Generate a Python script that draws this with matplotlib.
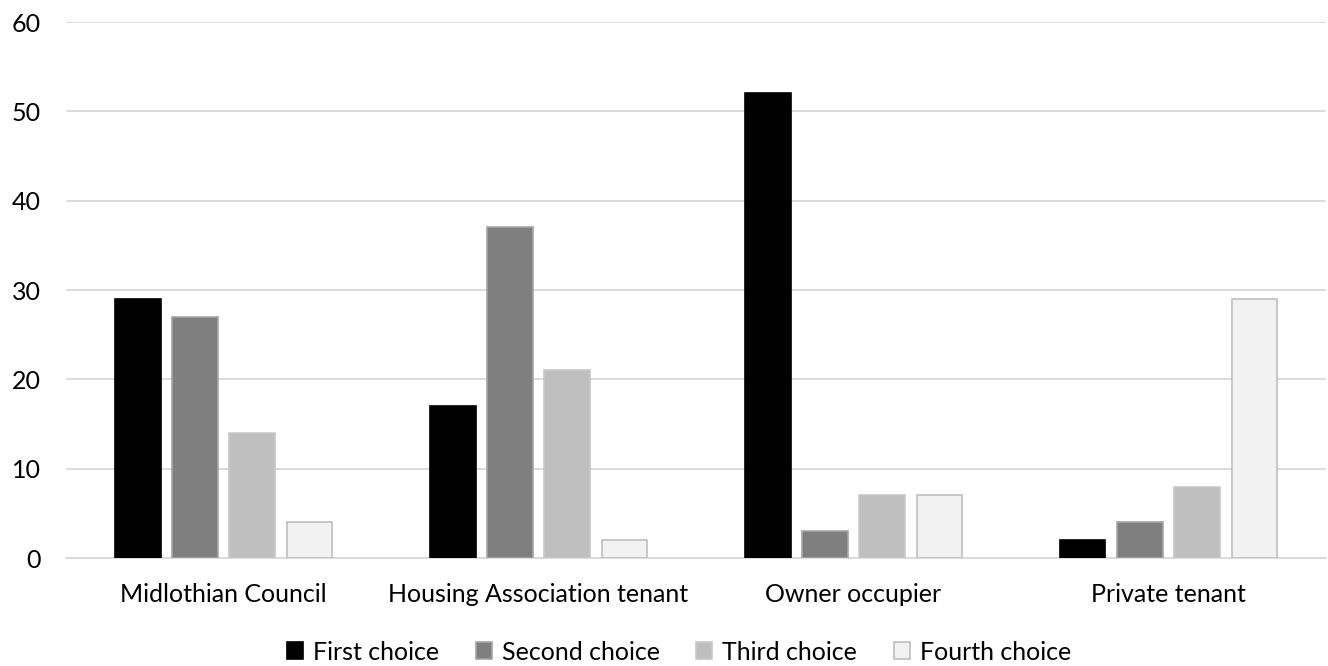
import matplotlib
matplotlib.use("Agg")
import matplotlib.pyplot as plt
import numpy as np

plt.rcParams['font.family'] = ['Lato', 'DejaVu Sans']

categories = ["Midlothian Council", "Housing Association tenant", "Owner occupier", "Private tenant"]
series_names = ["First choice", "Second choice", "Third choice", "Fourth choice"]
first = [29, 17, 52, 2]
second = [27, 37, 3, 4]
third = [14, 21, 7, 8]
fourth = [4, 2, 7, 29]
series_values = [first, second, third, fourth]
colors = ["#000000", "#7f7f7f", "#bfbfbf", "#f2f2f2"]
edges = ["#000000", "#a6a6a6", "#c8c8c8", "#bfbfbf"]

fig = plt.figure(figsize=(13.28, 6.66), dpi=100)
ax = fig.add_axes([66/1328, 1 - 558/666, 1260/1328, 536/666])

x = np.arange(len(categories))
width = 0.143
step = 0.181
for i, (name, vals) in enumerate(zip(series_names, series_values)):
    ax.bar(x + (i - 1.5) * step, vals, width, color=colors[i], edgecolor=edges[i],
           linewidth=1.2, label=name, zorder=3)

ax.set_xlim(-0.5, len(categories) - 0.5)
ax.set_ylim(0, 60)
ax.set_yticks(range(0, 61, 10))
ax.set_xticks(x)
ax.set_xticklabels(categories)
ax.grid(axis='y', color='#d9d9d9', linewidth=1.3, zorder=0)
ax.set_axisbelow(True)
for s in ['top', 'right', 'left']:
    ax.spines[s].set_visible(False)
ax.spines['bottom'].set_color('#d9d9d9')
ax.spines['bottom'].set_linewidth(1.3)
ax.tick_params(axis='both', length=0, labelsize=18, colors='black')
ax.tick_params(axis='y', pad=18)
ax.tick_params(axis='x', pad=18)

leg = fig.legend(loc='center', bbox_to_anchor=(679/1328, 1 - 652/666), ncol=4,
                 frameon=False, fontsize=18, handlelength=0.65, handleheight=0.65,
                 handletextpad=0.4, columnspacing=1.45)
fig.savefig("out.png", dpi=100)
